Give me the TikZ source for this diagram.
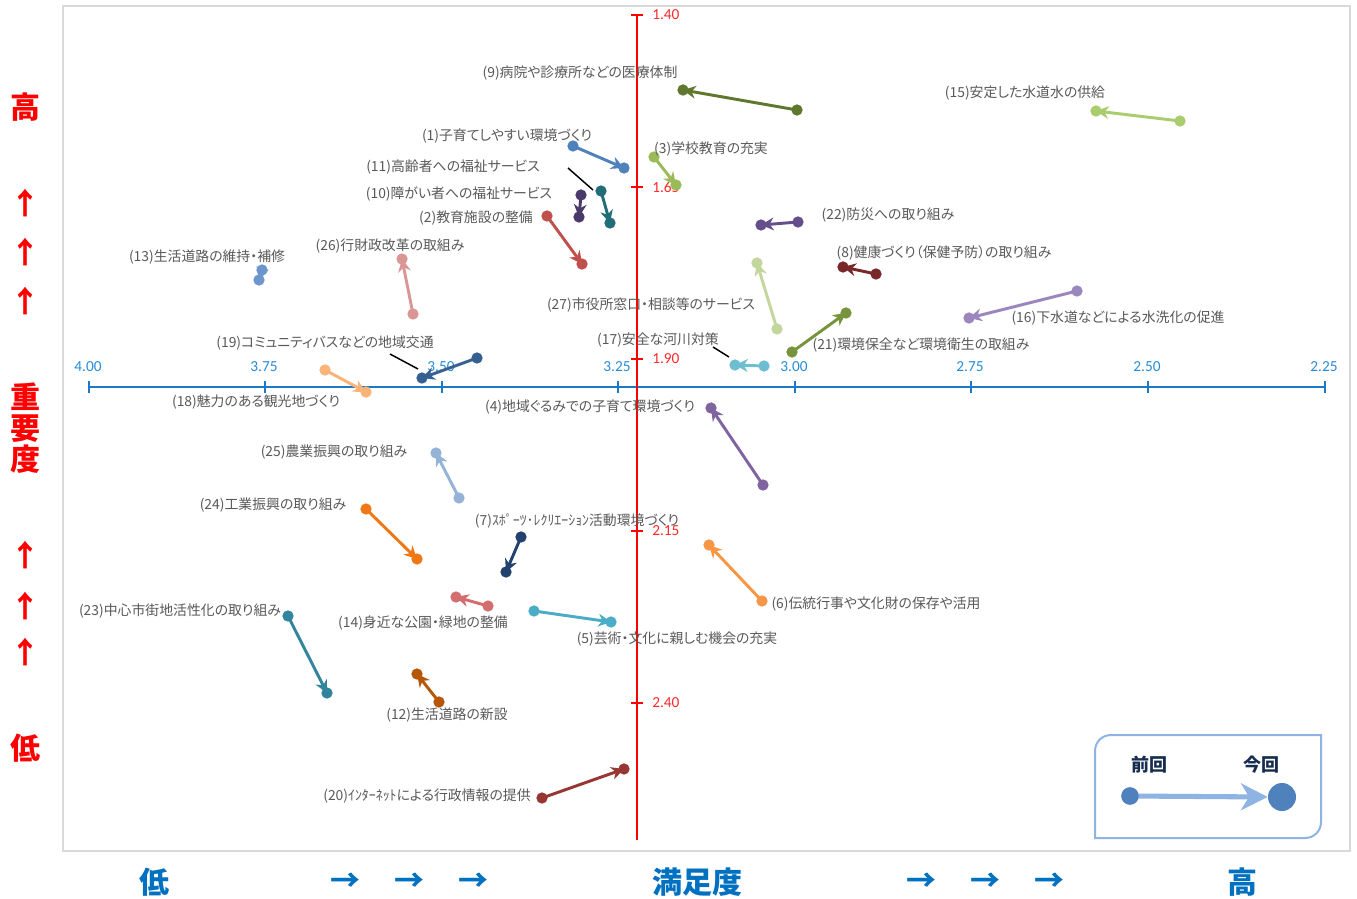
\documentclass[tikz,border=0pt]{standalone}
\usepackage{fontspec}
\setmainfont{Carlito}
\newfontfamily\jp[RawFeature={+palt}]{Noto Sans CJK JP}
\newfontfamily\jpf{Noto Sans CJK JP}
\usetikzlibrary{arrows.meta}
\definecolor{lblgray}{RGB}{89,89,89}
\definecolor{bordergray}{RGB}{217,217,217}
\definecolor{axblue}{RGB}{30,120,200}
\definecolor{tkblue}{RGB}{40,140,215}
\definecolor{tkred}{RGB}{255,40,40}
\definecolor{bigblue}{RGB}{0,112,192}
\definecolor{bigred}{RGB}{255,0,0}
\definecolor{legline}{RGB}{141,180,226}
\definecolor{legdot}{RGB}{79,129,189}
\definecolor{legtxt}{RGB}{23,45,80}
\definecolor{c1}{RGB}{79,129,189}
\definecolor{c2}{RGB}{192,80,77}
\definecolor{c3}{RGB}{155,187,89}
\definecolor{c4}{RGB}{128,100,162}
\definecolor{c5}{RGB}{75,172,198}
\definecolor{c6}{RGB}{247,150,70}
\definecolor{c7}{RGB}{35,65,110}
\definecolor{c8}{RGB}{120,40,40}
\definecolor{c9}{RGB}{95,120,45}
\definecolor{c10}{RGB}{75,58,105}
\definecolor{c11}{RGB}{33,110,120}
\definecolor{c12}{RGB}{182,87,8}
\definecolor{c13}{RGB}{110,150,205}
\definecolor{c14}{RGB}{210,110,110}
\definecolor{c15}{RGB}{169,205,110}
\definecolor{c16}{RGB}{155,135,190}
\definecolor{c17}{RGB}{110,190,210}
\definecolor{c18}{RGB}{250,180,120}
\definecolor{c19}{RGB}{55,96,146}
\definecolor{c20}{RGB}{150,55,52}
\definecolor{c21}{RGB}{119,147,60}
\definecolor{c22}{RGB}{100,78,140}
\definecolor{c23}{RGB}{49,133,156}
\definecolor{c24}{RGB}{240,120,20}
\definecolor{c25}{RGB}{149,179,215}
\definecolor{c26}{RGB}{217,150,148}
\definecolor{c27}{RGB}{195,214,155}
\tikzset{
  lbl/.style={font=\jp\fontsize{10.4}{12}\selectfont, text=lblgray, inner sep=0pt},
  conn/.style={line width=2.2pt, -{Stealth[length=9.5pt,width=9.5pt,inset=3pt]}},
  dot/.style={circle, inner sep=0pt, minimum size=8.5pt, draw=none},
  xtl/.style={font=\fontsize{11.5}{13}\selectfont, text=tkblue, inner sep=0pt},
  ytl/.style={font=\fontsize{11.5}{13}\selectfont, text=tkred, inner sep=0pt},
  leader/.style={draw=black, line width=1.1pt},
  bigr/.style={font=\jpf\bfseries\fontsize{22.5}{24}\selectfont, text=bigred, inner sep=0pt},
  bigb/.style={font=\jpf\bfseries\fontsize{22.5}{24}\selectfont, text=bigblue, inner sep=0pt},
  legt/.style={font=\jpf\bfseries\fontsize{13.5}{15}\selectfont, text=legtxt, inner sep=0pt},
}
\newcommand\mvpair[4]{%
  \coordinate (s#1) at (#3);
  \coordinate (e#1) at (#4);
  \draw[conn, draw=c#1] (s#1) -- (e#1);
  \node[dot, fill=c#1] (ds#1) at (s#1) {};
  \node[dot, fill=c#1] (de#1) at (e#1) {};
}
\begin{document}
\begin{tikzpicture}[x=0.75pt,y=-0.75pt]
\useasboundingbox (0,0) rectangle (1357,899);
\fill[white] (0,0) rectangle (1357,899);
\draw[bordergray, line width=1.2pt] (63,6) rectangle (1350,851);

% x axis
\draw[axblue, line width=1.5pt] (89,387) -- (1325,387);
\foreach \x/\l [count=\i] in {89/4.00,265/3.75,442/3.50,618/3.25,795/3.00,971/2.75,1148/2.50,1325/2.25}{
  \draw[axblue, line width=1.5pt] (\x,381) -- (\x,393);
  \node[xtl] (xt\i) at (\x-1,367) {\l};
}
% y axis
\draw[red, line width=1.5pt] (637,15) -- (637,840);
\foreach \y/\l [count=\i] in {15/1.40,187/1.65,359/1.90,531/2.15,703/2.40}{
  \draw[red, line width=1.5pt] (631,\y) -- (643,\y);
  \node[ytl, anchor=west] (yt\i) at (652,\y) {\l};
}

% data
\mvpair{9}{}{797,110}{683,90}
\mvpair{15}{}{1180,121}{1096,111}
\mvpair{1}{}{573,146}{624,168}
\mvpair{3}{}{654,157}{676,185}
\mvpair{11}{}{601,191}{610,223}
\mvpair{10}{}{581,195}{579,217}
\mvpair{2}{}{547,216}{582,264}
\mvpair{22}{}{798,222}{761,225}
\mvpair{8}{}{876,274}{843,267}
\mvpair{27}{}{777,329}{757,263}
\mvpair{21}{}{792,352}{846,313}
\mvpair{16}{}{1077,291}{969,318}
\mvpair{17}{}{764,366}{735,365}
\mvpair{13}{}{262,270}{259,280}
\mvpair{26}{}{413,314}{402,259}
\mvpair{19}{}{477,358}{422,378}
\mvpair{18}{}{325,370}{366,392}
\mvpair{4}{}{763,485}{711,408}
\mvpair{25}{}{459,498}{436,453}
\mvpair{24}{}{366,509}{417,559}
\mvpair{7}{}{521,537}{506,572}
\mvpair{6}{}{762,601}{709,545}
\mvpair{14}{}{488,606}{456,597}
\mvpair{5}{}{534,611}{611,622}
\mvpair{23}{}{288,616}{327,693}
\mvpair{12}{}{439,702}{417,674}
\mvpair{20}{}{542,798}{624,769}

% leader lines
\coordinate (la11) at (568,168); \coordinate (lb11) at (593,190);
\draw[leader] (la11) -- (lb11);
\coordinate (la19) at (390,354); \coordinate (lb19) at (418,369);
\draw[leader] (la19) -- (lb19);
\coordinate (la17) at (713,347); \coordinate (lb17) at (729,357);
\draw[leader] (la17) -- (lb17);

% labels
\node[lbl] (t9) at (580,73) {(9)病院や診療所などの医療体制};
\node[lbl] (t15) at (1025,93) {(15)安定した水道水の供給};
\node[lbl] (t1) at (507,136) {(1)子育てしやすい環境づくり};
\node[lbl] (t3) at (711,149) {(3)学校教育の充実};
\node[lbl] (t11) at (453,167) {(11)高齢者への福祉サービス};
\node[lbl] (t10) at (459,194) {(10)障がい者への福祉サービス};
\node[lbl] (t2) at (476,218) {(2)教育施設の整備};
\node[lbl] (t22) at (888,215) {(22)防災への取り組み};
\node[lbl] (t26) at (390,246) {(26)行財政改革の取組み};
\node[lbl] (t13) at (207,257) {(13)生活道路の維持・補修};
\node[lbl] (t8) at (944,253) {(8)健康づくり（保健予防）の取り組み};
\node[lbl] (t27) at (651,305) {(27)市役所窓口・相談等のサービス};
\node[lbl] (t16) at (1118,318) {(16)下水道などによる水洗化の促進};
\node[lbl] (t19) at (325,343) {(19)コミュニティバスなどの地域交通};
\node[lbl] (t17) at (658,340) {(17)安全な河川対策};
\node[lbl] (t21) at (921,345) {(21)環境保全など環境衛生の取組み};
\node[lbl] (t18) at (256,402) {(18)魅力のある観光地づくり};
\node[lbl] (t4) at (590,407) {(4)地域ぐるみでの子育て環境づくり};
\node[lbl] (t25) at (334,452) {(25)農業振興の取り組み};
\node[lbl] (t24) at (273,505) {(24)工業振興の取り組み};
\node[lbl] (t7) at (577,521) {(7)ｽﾎﾟｰﾂ･ﾚｸﾘｴｰｼｮﾝ活動環境づくり};
\node[lbl] (t6) at (876,604) {(6)伝統行事や文化財の保存や活用};
\node[lbl] (t23) at (180,611) {(23)中心市街地活性化の取り組み};
\node[lbl] (t14) at (423,623) {(14)身近な公園・緑地の整備};
\node[lbl] (t5) at (677,639) {(5)芸術・文化に親しむ機会の充実};
\node[lbl] (t12) at (447,715) {(12)生活道路の新設};
\node[lbl] (t20) at (427,796) {(20)ｲﾝﾀｰﾈｯﾄによる行政情報の提供};

% legend
\draw[legline, line width=1.5pt] (1095,838) -- (1095,751) .. controls (1095,742) and (1102,735) .. (1111,735) -- (1321,735) -- (1321,822) .. controls (1321,831) and (1314,838) .. (1305,838) -- cycle;
\node[legt] (lgprev) at (1149,765) {前回};
\node[legt] (lgcur) at (1261,765) {今回};
\node[circle, fill=legdot, inner sep=0pt, minimum size=13pt] (lgs) at (1130,796) {};
\node[circle, fill=legdot, inner sep=0pt, minimum size=21pt] (lgb) at (1282,797) {};
\draw[legline, line width=3.8pt, -{Stealth[length=20pt,width=20pt,inset=6pt]}] (lgs.center) -- (lgb.west);
\node[circle, fill=legdot, inner sep=0pt, minimum size=13pt] (lgs2) at (1130,796) {};

% big side labels
\node[bigr] (yhi) at (25,107) {高};
\node[bigr] (yu1) at (25,203) {↑};
\node[bigr] (yu2) at (25,252) {↑};
\node[bigr] (yu3) at (25,301) {↑};
\node[bigr, align=center, font=\jpf\bfseries\fontsize{22.5}{23.5}\selectfont] (ytitle) at (25,428) {重\\要\\度};
\node[bigr] (yu4) at (25,555) {↑};
\node[bigr] (yu5) at (25,606) {↑};
\node[bigr] (yu6) at (25,652) {↑};
\node[bigr] (ylo) at (25,748) {低};

\node[bigb] (xlo) at (154,882) {低};
\node[bigb] (xa1) at (345,882) {→};
\node[bigb] (xa2) at (409,882) {→};
\node[bigb] (xa3) at (473,882) {→};
\node[bigb] (xtitle) at (697,882) {満足度};
\node[bigb] (xa4) at (921,882) {→};
\node[bigb] (xa5) at (985,882) {→};
\node[bigb] (xa6) at (1049,882) {→};
\node[bigb] (xhi) at (1242,882) {高};
\end{tikzpicture}
\end{document}
